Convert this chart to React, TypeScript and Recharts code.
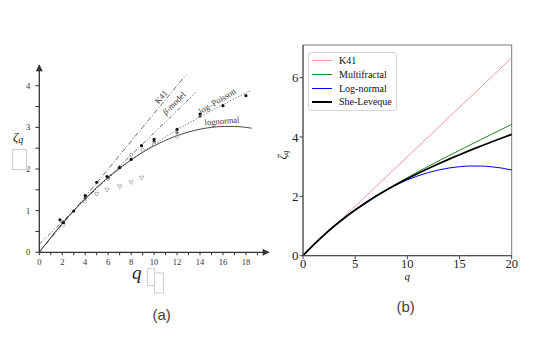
import React from 'react'
import {
  ComposedChart, LineChart, Line, Scatter, XAxis, YAxis, Legend, ReferenceArea,
} from 'recharts'

// ---- panel (b): scaling exponents at q = 0..20
const qGrid = [0, 1, 2, 3, 4, 5, 6, 7, 8, 9, 10, 11, 12, 13, 14, 15, 16, 17, 18, 19, 20]
const k41 = [0, 0.333, 0.667, 1, 1.333, 1.667, 2, 2.333, 2.667, 3, 3.333, 3.667, 4, 4.333, 4.667, 5, 5.333, 5.667, 6, 6.333, 6.667]
const multifractal = [0, 0.361, 0.694, 1, 1.282, 1.543, 1.786, 2.014, 2.229, 2.434, 2.632, 2.824, 3.010, 3.194, 3.374, 3.552, 3.729, 3.904, 4.079, 4.252, 4.425]
const logNormal = [0, 0.356, 0.689, 1, 1.289, 1.556, 1.8, 2.022, 2.222, 2.4, 2.556, 2.689, 2.8, 2.889, 2.956, 3.0, 3.022, 3.022, 3.0, 2.956, 2.889]
const sheLeveque = [0, 0.364, 0.696, 1, 1.280, 1.538, 1.778, 2.001, 2.211, 2.407, 2.593, 2.770, 2.938, 3.099, 3.254, 3.403, 3.548, 3.688, 3.824, 3.958, 4.088]
const xTicksB = [0, 5, 10, 15, 20]
const yTicksB = [0, 2, 4, 6]

// ---- panel (a): scanned figure, models + measured points
const aK41Q = [0, 12.8]
const aK41Z = [0, 4.27]
const aBetaQ = [0, 13.6]
const aBetaZ = [0.2, 3.83]
const aPoissonQ = [0, 2, 4, 6, 8, 10, 12, 14, 16, 18, 18.4]
const aPoissonZ = [0, 0.696, 1.280, 1.778, 2.211, 2.593, 2.938, 3.254, 3.548, 3.824, 3.878]
const aLogNQ = [0, 2, 4, 6, 8, 10, 12, 14, 15, 16, 17, 18, 18.5]
const aLogNZ = [0, 0.689, 1.289, 1.8, 2.222, 2.556, 2.8, 2.956, 3.0, 3.022, 3.022, 3.0, 2.98]

const dotQ = [1.8, 2.1, 3, 4, 5, 5.9, 7, 8, 8.9, 10, 12, 14, 16, 18]
const dotZ = [0.78, 0.71, 0.99, 1.36, 1.68, 1.82, 2.03, 2.23, 2.56, 2.71, 2.95, 3.32, 3.52, 3.76]
const triQ = [5, 5.9, 7, 8, 8.9]
const triZ = [1.40, 1.50, 1.58, 1.68, 1.79]
const ringQ = [2.1, 4, 6, 8, 9, 10, 12]
const ringZ = [0.66, 1.22, 1.76, 2.34, 2.46, 2.60, 2.78]
const plusQ = [2, 4, 6, 7, 10, 12, 14]
const plusZ = [0.72, 1.3, 1.79, 2.05, 2.66, 2.87, 3.26]

const xTicksA = [0, 1, 2, 3, 4, 5, 6, 7, 8, 9, 10, 11, 12, 13, 14, 15, 16, 17, 18, 19]
const yTicksA = [0, 0.5, 1, 1.5, 2, 2.5, 3, 3.5, 4]

const pts = (qs: number[], zs: number[]) => qs.map((q, i) => ({ q, z: zs[i] }))

const rowsB = qGrid.map((q, i) => ({
  q,
  k41: k41[i],
  multifractal: multifractal[i],
  logNormal: logNormal[i],
  sheLeveque: sheLeveque[i],
}))

const seriesB = [
  { key: 'k41', name: 'K41', color: '#f59a9a', w: 1 },
  { key: 'multifractal', name: 'Multifractal', color: '#1a8a1a', w: 1 },
  { key: 'logNormal', name: 'Log-normal', color: '#0000ff', w: 1 },
  { key: 'sheLeveque', name: 'She-Leveque', color: '#000000', w: 2 },
]

const serif = 'Liberation Serif, DejaVu Serif, serif'

const TickA = (props: any) => {
  const { x, y, payload, vertical } = props
  const v = payload.value
  if (!Number.isInteger(v) || (!vertical && v % 2 !== 0)) return <g />
  return (
    <text x={x} y={y} dy={vertical ? '0.35em' : '0.71em'} textAnchor={vertical ? 'end' : 'middle'}
      fontSize={8.5} fontFamily={serif} fill="#333" stroke="none">{v}</text>
  )
}

const dotShape = (p: any) => <circle cx={p.cx} cy={p.cy} r={1.6} fill="#111" />
const ringShape = (p: any) => <circle cx={p.cx} cy={p.cy} r={1.7} fill="none" stroke="#999" strokeWidth={0.7} />
const triShape = (p: any) => (
  <path d={`M${p.cx - 2.2},${p.cy - 1.6} L${p.cx + 2.2},${p.cy - 1.6} L${p.cx},${p.cy + 2.2} Z`}
    fill="none" stroke="#999" strokeWidth={0.7} />
)
const plusShape = (p: any) => (
  <path d={`M${p.cx - 1.8},${p.cy} H${p.cx + 1.8} M${p.cx},${p.cy - 1.8} V${p.cy + 1.8}`}
    stroke="#333" strokeWidth={0.8} />
)

const LegendB = () => (
  <div style={{
    border: '1px solid #d6d6d6', borderRadius: 3, background: '#fff',
    padding: '1px 4px 1px 3px', fontFamily: serif, fontSize: 10, color: '#111',
  }}>
    {seriesB.map((s) => (
      <div key={s.key} style={{ display: 'flex', alignItems: 'center', height: 13.8, whiteSpace: 'nowrap' }}>
        <span style={{ display: 'inline-block', width: 20, borderTop: `${s.w}px solid ${s.color}`, marginRight: 7 }} />
        {s.name}
      </div>
    ))}
  </div>
)

export default function App() {
  return (
    <div style={{ position: 'absolute', left: 0, top: 0, width: 556, height: 347, background: '#fff' }}>
      {/* (a) */}
      <div style={{ position: 'absolute', left: 0, top: 40 }}>
        <ComposedChart width={290} height={260} margin={{ top: 24.9, right: 21.1, bottom: 27.7, left: 9.3 }}>
          <defs>
            <marker id="arrowA" viewBox="0 0 10 10" refX="9" refY="5" markerWidth="8" markerHeight="7"
              markerUnits="userSpaceOnUse" orient="auto-start-reverse">
              <path d="M0,0 L10,5 L0,10 z" fill="#333" />
            </marker>
          </defs>
          <XAxis dataKey="q" type="number" domain={[0, 20]} ticks={xTicksA} interval={0}
            axisLine={{ stroke: '#333', strokeWidth: 1.3, markerEnd: 'url(#arrowA)' }}
            tickLine={{ stroke: '#333' }} tickSize={3} tickMargin={4} height={20}
            tick={<TickA />} />
          <YAxis type="number" domain={[0, 4.5]} ticks={yTicksA} interval={0}
            axisLine={{ stroke: '#333', strokeWidth: 1.3, markerStart: 'url(#arrowA)' }}
            tickLine={{ stroke: '#333' }} tickSize={4} tickMargin={5} width={30}
            tick={<TickA vertical />} />
          <Line data={pts(aK41Q, aK41Z)} dataKey="z" stroke="#444" strokeWidth={0.8}
            strokeDasharray="5 2 1 2" dot={false} isAnimationActive={false} />
          <Line data={pts(aBetaQ, aBetaZ)} dataKey="z" stroke="#444" strokeWidth={0.8}
            strokeDasharray="4 2 1 2 1 2" dot={false} isAnimationActive={false} />
          <Line data={pts(aPoissonQ, aPoissonZ)} dataKey="z" type="monotone" stroke="#444" strokeWidth={0.8}
            strokeDasharray="1.2 1.8" dot={false} isAnimationActive={false} />
          <Line data={pts(aLogNQ, aLogNZ)} dataKey="z" type="monotone" stroke="#333" strokeWidth={0.9}
            dot={false} isAnimationActive={false} />
          <Scatter data={pts(ringQ, ringZ)} dataKey="z" shape={ringShape} isAnimationActive={false} />
          <Scatter data={pts(triQ, triZ)} dataKey="z" shape={triShape} isAnimationActive={false} />
          <Scatter data={pts(plusQ, plusZ)} dataKey="z" shape={plusShape} isAnimationActive={false} />
          <Scatter data={pts(dotQ, dotZ)} dataKey="z" shape={dotShape} isAnimationActive={false} />
        </ComposedChart>
      </div>

      {/* (b) */}
      <div style={{ position: 'absolute', left: 270, top: 30 }}>
        <LineChart width={286} height={260} data={rowsB} margin={{ top: 15, right: 44.3, bottom: 4.3, left: 8 }}>
          <XAxis dataKey="q" type="number" domain={[0, 20]} ticks={xTicksB} interval={0}
            axisLine={{ stroke: '#444' }} tickLine={{ stroke: '#444' }} tickSize={3.5} tickMargin={-0.5}
            tick={{ fontSize: 12.5, fontFamily: serif, fill: '#222' }} height={30} />
          <YAxis type="number" domain={[0, 7.1]} ticks={yTicksB} interval={0}
            axisLine={{ stroke: '#444' }} tickLine={{ stroke: '#444' }} tickSize={3.5} tickMargin={1}
            tick={{ fontSize: 13, fontFamily: serif, fill: '#222' }} width={25} />
          <ReferenceArea x1={0} x2={20} y1={0} y2={7.1} fill="none" stroke="#555" strokeWidth={0.8} ifOverflow="visible" />
          {seriesB.map((s) => (
            <Line key={s.key} dataKey={s.key} name={s.name} type="monotone" stroke={s.color}
              strokeWidth={s.w === 2 ? 1.8 : 1} dot={false} isAnimationActive={false} />
          ))}
          <Legend layout="vertical" align="center" verticalAlign="middle" content={() => <LegendB />}
            wrapperStyle={{ left: 38, top: 21.7, width: 'auto', height: 'auto' }} />
        </LineChart>
      </div>

      {/* labels and captions */}
      <svg width={556} height={347} style={{ position: 'absolute', left: 0, top: 0, pointerEvents: 'none' }}>
        <g fontFamily={serif} fill="#333" fontSize={8.5}>
          <text transform="translate(161,97) rotate(-51)" textAnchor="middle" dominantBaseline="central">K41</text>
          <text transform="translate(174,103) rotate(-45)" textAnchor="middle" dominantBaseline="central">
            <tspan fontStyle="italic">β</tspan>-model
          </text>
          <text transform="translate(217,101) rotate(-31)" textAnchor="middle" dominantBaseline="central">log–Poisson</text>
          <text transform="translate(222,121) rotate(-5)" textAnchor="middle" dominantBaseline="central">lognormal</text>
        </g>
        <text x={13} y={140.5} fontFamily={serif} fontStyle="italic" fontSize={13} fill="#222">
          ζ<tspan fontSize={10} dy={2.5}>q</tspan>
        </text>
        <text x={132} y={279} fontFamily={serif} fontStyle="italic" fontSize={19} fill="#222">q</text>
        <rect x={12.5} y={149.5} width={14} height={20} fill="none" stroke="#cfcfcf" />
        <rect x={147.5} y={268.5} width={7} height={17} fill="none" stroke="#cfcfcf" />
        <rect x={154.5} y={273} width={9} height={20} fill="none" stroke="#cfcfcf" />

        <text transform="translate(285.5,155) rotate(-90)" textAnchor="middle" fontFamily={serif}
          fontStyle="italic" fontSize={12} fill="#222">
          ζ<tspan fontSize={8.5} dy={2}>q</tspan>
        </text>
        <text x={407.3} y={279.5} textAnchor="middle" fontFamily={serif} fontStyle="italic" fontSize={11} fill="#222">q</text>

        <text x={152.5} y={320} fontFamily="Liberation Sans, Arial, sans-serif" fontSize={15} fill="#444">(a)</text>
        <text x={396.5} y={312} fontFamily="Liberation Sans, Arial, sans-serif" fontSize={15} fill="#444">(b)</text>
      </svg>
    </div>
  )
}
